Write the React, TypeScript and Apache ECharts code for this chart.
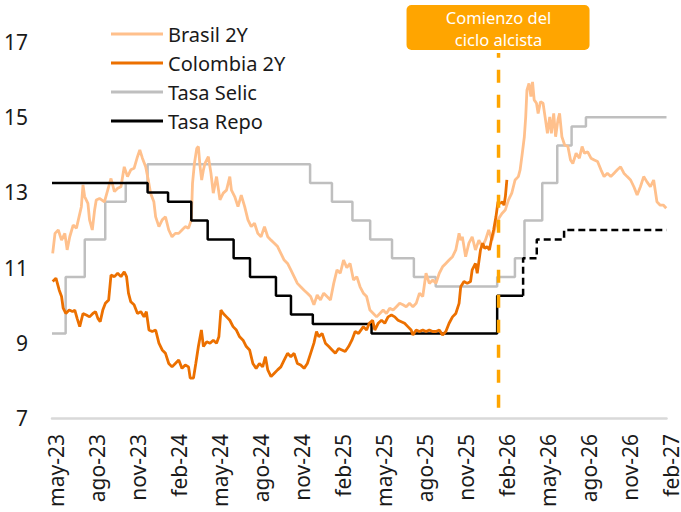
import React, { useEffect, useRef } from "react";
import * as echarts from "echarts";

// x values are months since May 2023 (0 = may-23)
const xTickLabels = [
  "may-23", "ago-23", "nov-23", "feb-24", "may-24", "ago-24", "nov-24", "feb-25",
  "may-25", "ago-25", "nov-25", "feb-26", "may-26", "ago-26", "nov-26", "feb-27",
];
const eventMonth = 32.7; // Comienzo del ciclo alcista
const eventLabel = "Comienzo del\nciclo alcista";
const eventLine: [number, number][] = [[eventMonth, 7.27], [eventMonth, 16.71]];

const brasil2Y: [number, number][] = [
  [0.05, 11.38], [0.22, 11.91], [0.46, 12.0], [0.7, 11.73], [0.94, 11.91], [1.11, 11.47], [1.3, 11.82],
  [1.55, 12.13], [1.79, 12.05], [1.98, 12.35], [2.15, 12.62], [2.27, 13.2], [2.39, 12.89], [2.63, 12.71],
  [2.75, 12.27], [2.95, 12.0], [3.12, 12.53], [3.24, 12.8], [3.48, 12.84], [3.84, 12.75], [4.08, 13.06],
  [4.32, 13.37], [4.57, 13.02], [4.81, 13.11], [5.05, 13.15], [5.29, 13.68], [5.53, 13.42], [5.77, 13.6],
  [6.01, 13.64], [6.26, 13.95], [6.43, 14.13], [6.62, 13.91], [6.86, 13.68], [7.05, 13.33], [7.22, 12.98],
  [7.46, 12.75], [7.59, 12.35], [7.83, 12.09], [8.07, 12.27], [8.31, 12.35], [8.55, 12.0], [8.79, 11.82],
  [9.03, 11.91], [9.28, 11.91], [9.52, 12.0], [9.76, 12.09], [10.0, 12.05], [10.2, 12.27], [10.29, 13.24],
  [10.43, 13.77], [10.6, 14.17], [10.72, 14.22], [10.84, 13.7], [10.96, 13.33], [11.09, 13.6], [11.2, 13.77],
  [11.45, 13.95], [11.64, 13.51], [11.81, 12.98], [12.05, 13.42], [12.3, 12.8], [12.54, 12.98], [12.78, 13.06],
  [13.02, 13.42], [13.14, 13.06], [13.38, 12.89], [13.62, 12.62], [13.86, 12.93], [14.11, 12.62], [14.35, 12.27],
  [14.59, 12.09], [14.83, 12.18], [15.07, 11.91], [15.31, 11.82], [15.56, 12.09], [15.8, 11.82], [16.04, 11.73],
  [16.28, 11.65], [16.52, 11.56], [16.76, 11.38], [17.0, 11.2], [17.25, 11.11], [17.49, 10.94], [17.73, 10.76],
  [17.97, 10.58], [18.21, 10.49], [18.46, 10.4], [18.7, 10.32], [18.94, 10.23], [19.18, 10.01], [19.42, 10.27],
  [19.66, 10.14], [19.9, 10.32], [20.14, 10.23], [20.39, 10.14], [20.63, 10.58], [20.87, 10.94], [21.11, 10.85],
  [21.35, 11.2], [21.59, 11.0], [21.83, 11.11], [22.08, 10.67], [22.32, 10.76], [22.56, 10.49], [22.8, 10.32],
  [23.04, 10.23], [23.28, 9.87], [23.53, 9.78], [23.77, 9.69], [24.01, 9.78], [24.25, 9.87], [24.49, 9.78],
  [24.73, 9.92], [24.98, 9.87], [25.22, 9.96], [25.46, 10.05], [25.7, 10.01], [25.94, 9.96], [26.18, 10.05],
  [26.43, 9.96], [26.67, 10.05], [26.91, 10.32], [27.15, 10.23], [27.39, 10.85], [27.63, 10.58], [27.88, 10.67],
  [28.12, 10.58], [28.36, 10.85], [28.6, 11.02], [28.84, 11.11], [29.08, 11.2], [29.33, 11.29], [29.57, 11.47],
  [29.81, 11.91], [29.93, 11.73], [30.05, 11.82], [30.29, 11.29], [30.53, 11.65], [30.77, 11.82], [31.01, 11.47],
  [31.26, 11.73], [31.5, 11.56], [31.74, 11.73], [31.98, 12.0], [32.22, 11.73], [32.46, 12.09], [32.7, 12.3],
  [32.95, 12.44], [33.19, 12.53], [33.43, 12.8], [33.67, 12.98], [33.91, 13.33], [34.15, 13.42], [34.28, 13.6],
  [34.44, 14.04], [34.59, 14.48], [34.69, 15.01], [34.78, 15.72], [34.93, 15.9], [35.07, 15.55], [35.19, 15.94],
  [35.31, 15.46], [35.48, 15.37], [35.6, 15.1], [35.77, 15.41], [35.96, 15.37], [36.14, 14.93], [36.28, 14.57],
  [36.45, 15.01], [36.57, 14.57], [36.74, 15.1], [36.88, 14.48], [37.05, 14.93], [37.17, 15.1], [37.34, 14.48],
  [37.54, 14.26], [37.78, 14.22], [37.97, 13.86], [38.14, 13.77], [38.38, 14.04], [38.62, 13.91], [38.82, 14.22],
  [38.99, 14.04], [39.23, 14.08], [39.47, 13.91], [39.71, 13.86], [39.95, 13.82], [40.2, 13.6], [40.43, 13.42],
  [40.67, 13.51], [40.92, 13.42], [41.16, 13.51], [41.4, 13.6], [41.64, 13.68], [41.88, 13.51], [42.12, 13.42],
  [42.37, 13.33], [42.61, 13.15], [42.85, 12.93], [43.09, 13.15], [43.33, 13.42], [43.57, 13.28], [43.82, 13.15],
  [44.06, 13.33], [44.3, 12.75], [44.54, 12.66], [44.78, 12.66], [44.98, 12.58],
];

const colombia2Y: [number, number][] = [
  [0.05, 10.63], [0.29, 10.72], [0.53, 10.4], [0.7, 10.23], [0.82, 9.92], [1.01, 9.78], [1.26, 9.87],
  [1.5, 9.83], [1.67, 9.87], [1.84, 9.65], [2.03, 9.43], [2.27, 9.78], [2.51, 9.74], [2.75, 9.69],
  [2.99, 9.78], [3.19, 9.83], [3.36, 9.65], [3.53, 9.56], [3.72, 9.87], [3.91, 10.05], [4.15, 10.14],
  [4.32, 10.8], [4.57, 10.76], [4.81, 10.85], [5.05, 10.76], [5.29, 10.89], [5.46, 10.76], [5.6, 10.32],
  [5.77, 10.09], [6.01, 10.01], [6.26, 9.78], [6.5, 9.83], [6.74, 9.69], [6.91, 9.83], [7.1, 9.34],
  [7.34, 9.3], [7.59, 9.34], [7.83, 8.99], [8.07, 8.81], [8.31, 8.72], [8.55, 8.45], [8.79, 8.36],
  [9.03, 8.45], [9.28, 8.54], [9.52, 8.32], [9.76, 8.41], [10.0, 8.36], [10.12, 8.06], [10.36, 8.06],
  [10.53, 8.45], [10.72, 8.9], [10.94, 9.34], [11.09, 8.9], [11.33, 9.03], [11.57, 8.99], [11.81, 9.07],
  [12.05, 8.99], [12.22, 9.16], [12.37, 9.87], [12.54, 9.78], [12.78, 9.69], [13.02, 9.6], [13.26, 9.43],
  [13.5, 9.34], [13.74, 9.16], [13.99, 9.07], [14.23, 8.9], [14.47, 8.81], [14.71, 8.45], [14.95, 8.32],
  [15.19, 8.45], [15.43, 8.36], [15.63, 8.63], [15.8, 8.28], [16.04, 8.1], [16.28, 8.19], [16.52, 8.28],
  [16.76, 8.36], [17.0, 8.54], [17.25, 8.72], [17.49, 8.63], [17.73, 8.72], [17.97, 8.45], [18.21, 8.41],
  [18.46, 8.32], [18.7, 8.45], [18.94, 8.72], [19.18, 8.99], [19.37, 9.3], [19.54, 9.16], [19.78, 9.25],
  [20.02, 8.99], [20.27, 8.9], [20.51, 8.81], [20.75, 8.72], [20.99, 8.85], [21.23, 8.81], [21.47, 8.77],
  [21.72, 8.9], [21.96, 9.07], [22.2, 9.3], [22.45, 9.25], [22.8, 9.43], [23.04, 9.34], [23.23, 9.52],
  [23.48, 9.6], [23.64, 9.34], [23.89, 9.52], [24.13, 9.6], [24.37, 9.52], [24.61, 9.69], [24.86, 9.74],
  [25.1, 9.69], [25.34, 9.6], [25.58, 9.56], [25.82, 9.52], [26.06, 9.43], [26.3, 9.34], [26.43, 9.21],
  [26.67, 9.34], [26.91, 9.3], [27.15, 9.34], [27.39, 9.3], [27.63, 9.34], [27.88, 9.3], [28.12, 9.3],
  [28.36, 9.34], [28.6, 9.21], [28.84, 9.3], [29.08, 9.52], [29.33, 9.69], [29.57, 9.78], [29.81, 10.05],
  [29.93, 10.49], [30.17, 10.63], [30.41, 10.58], [30.65, 10.63], [30.77, 10.94], [31.01, 11.11], [31.14, 10.85],
  [31.38, 11.47], [31.54, 11.65], [31.69, 11.51], [31.86, 11.56], [32.03, 11.47], [32.17, 11.73], [32.34, 12.0],
  [32.51, 12.35], [32.66, 12.75], [32.83, 12.71], [32.99, 12.75], [33.1, 12.66], [33.2, 12.89], [33.31, 13.33],
];

const tasaSelic: [number, number][] = [
  [0, 9.25], [1.0, 10.75], [2.4, 11.75], [3.9, 12.75], [5.4, 13.25], [7.0, 13.75], [18.9, 13.25],
  [20.5, 12.75], [22.0, 12.25], [23.3, 11.75], [24.9, 11.25], [26.5, 10.75], [28.1, 10.5], [32.6, 10.75],
  [33.9, 11.25], [34.6, 12.25], [35.9, 13.25], [37.0, 14.25], [38.05, 14.75], [39.1, 15.0], [45, 15.0],
];

const tasaRepo: [number, number][] = [
  [0, 13.25], [7.0, 13.0], [8.5, 12.75], [10.2, 12.25], [11.4, 11.75], [13.3, 11.25], [14.5, 10.75],
  [16.4, 10.25], [17.5, 9.75], [19.1, 9.5], [23.4, 9.25], [32.6, 10.25], [34.5, 10.25],
];

const tasaRepoProy: [number, number][] = [
  [34.5, 10.25], [34.5, 11.25], [35.5, 11.75], [37.5, 12.0], [45, 12.0],
];

const FONT = "'Noto Sans', 'Open Sans', sans-serif";
const TEXT = "#1a1a1a";

export default function App() {
  const ref = useRef<HTMLDivElement>(null);
  useEffect(() => {
    document.body.style.margin = "0";
    if (!ref.current) return;
    const chart = echarts.init(ref.current, undefined, { renderer: "svg" });
    chart.setOption({
      animation: false,
      backgroundColor: "#ffffff",
      textStyle: { fontFamily: FONT },
      grid: { left: 52, right: 8, top: 42, bottom: 94, containLabel: false },
      legend: {
        data: ["Brasil 2Y", "Colombia 2Y", "Tasa Selic", "Tasa Repo"],
        orient: "vertical",
        left: 111,
        top: 24,
        padding: 0,
        icon: "rect",
        itemWidth: 52,
        itemHeight: 3,
        itemGap: 9,
        textStyle: { fontSize: 20, color: TEXT, fontFamily: FONT },
      },
      xAxis: {
        type: "value",
        min: 0,
        max: 45,
        interval: 3,
        axisLine: { show: true, lineStyle: { color: "#D9D9D9", width: 2.5 } },
        axisTick: { show: false },
        splitLine: { show: false },
        axisLabel: {
          rotate: 90,
          margin: 16,
          fontSize: 21,
          color: TEXT,
          fontFamily: FONT,
          verticalAlign: "top",
          lineHeight: 8,
          formatter: (v: number) => xTickLabels[Math.round(v / 3)] ?? "",
        },
      },
      yAxis: {
        type: "value",
        min: 7,
        max: 17,
        interval: 2,
        axisLine: { show: false },
        axisTick: { show: false },
        splitLine: { show: false },
        axisLabel: { margin: 24, fontSize: 21, color: TEXT, fontFamily: FONT },
      },
      series: [
        {
          name: "Tasa Selic",
          type: "line",
          step: "end",
          data: tasaSelic,
          color: "#BFBFBF",
          showSymbol: false,
          symbol: "none",
          lineStyle: { color: "#BFBFBF", width: 2.5 },
        },
        {
          name: "Brasil 2Y",
          type: "line",
          data: brasil2Y,
          color: "#FFC08C",
          showSymbol: false,
          symbol: "none",
          lineStyle: { color: "#FFC08C", width: 2.8 },
        },
        {
          name: "Tasa Repo",
          type: "line",
          step: "end",
          data: tasaRepo,
          color: "#000000",
          showSymbol: false,
          symbol: "none",
          lineStyle: { color: "#000000", width: 2.5 },
        },
        {
          name: "Tasa Repo proyectada",
          type: "line",
          step: "end",
          data: tasaRepoProy,
          color: "#000000",
          showSymbol: false,
          symbol: "none",
          lineStyle: { color: "#000000", width: 2.5, type: [7, 4] },
        },
        {
          name: "Colombia 2Y",
          type: "line",
          data: colombia2Y,
          color: "#EC7000",
          showSymbol: false,
          symbol: "none",
          lineStyle: { color: "#EC7000", width: 2.8 },
        },
        {
          name: "Comienzo del ciclo alcista",
          type: "line",
          data: eventLine,
          color: "#FFA500",
          showSymbol: false,
          symbol: "none",
          silent: true,
          lineStyle: { color: "#FFA500", width: 3.5, type: [13, 12] },
        },
      ],
    });
    const px = chart.convertToPixel({ xAxisIndex: 0 }, eventMonth) as number;
    chart.setOption({
      graphic: [
        {
          type: "group",
          children: [
            {
              type: "rect",
              shape: { x: px - 92, y: 5, width: 183, height: 45, r: 5 },
              style: { fill: "#FFA500" },
            },
            {
              type: "text",
              x: px,
              y: 28,
              style: {
                text: eventLabel,
                fill: "#ffffff",
                fontSize: 16.5,
                lineHeight: 22,
                fontFamily: FONT,
                align: "center",
                verticalAlign: "middle",
              },
            },
          ],
        },
      ],
    });
    return () => chart.dispose();
  }, []);
  return <div ref={ref} style={{ width: 681, height: 512 }} />;
}
